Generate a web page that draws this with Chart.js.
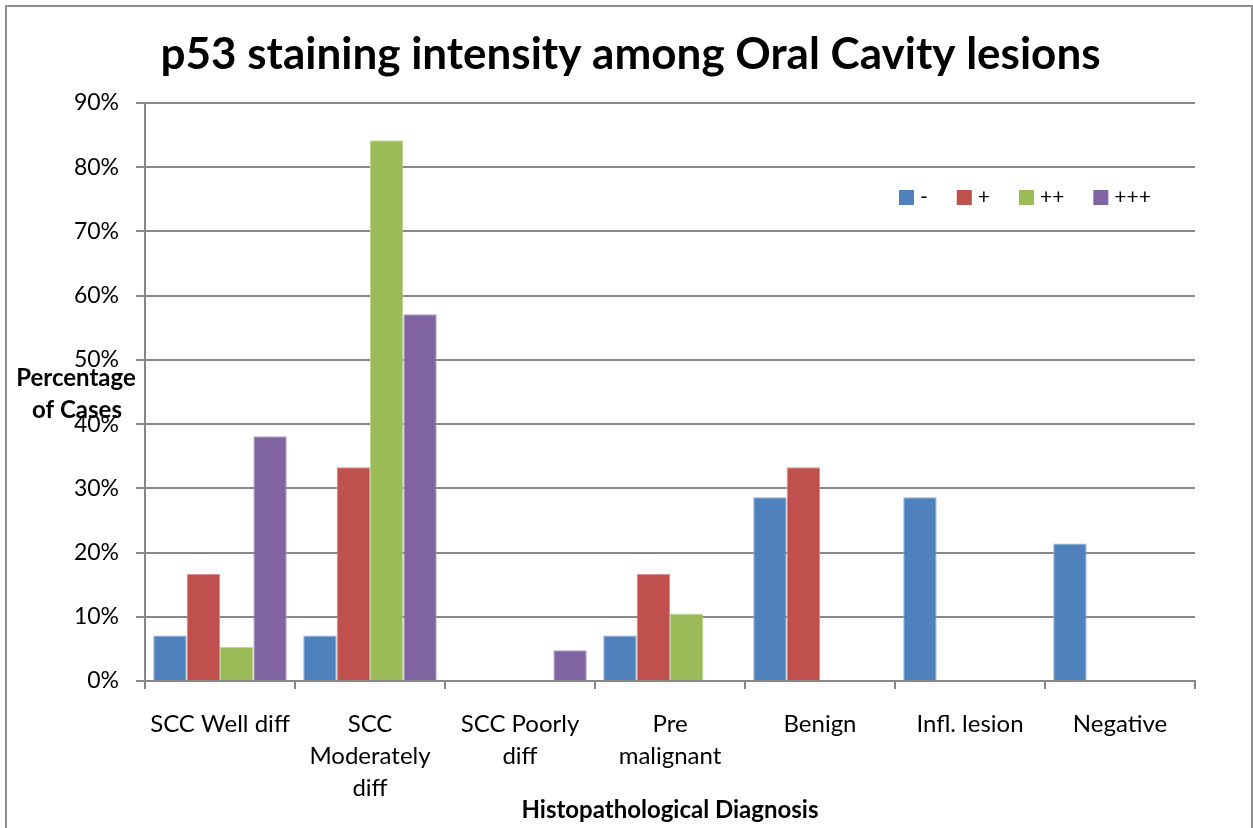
<!DOCTYPE html>
<html>
<head>
<meta charset="utf-8">
<title>p53 staining intensity</title>
<script src="https://cdn.jsdelivr.net/npm/chart.js@4.4.1/dist/chart.umd.min.js"></script>
<style>
    html, body { margin: 0; padding: 0; background: #fff; overflow: hidden; }
    #frame { position: absolute; left: 5px; top: 5px; width: 1244px; height: 840px; border: 2px solid #8e8e8e; }
    #wrap { position: absolute; left: 0; top: 0; width: 1253px; height: 828px; }
</style>
</head>
<body>
<div id="frame"></div>
<div id="wrap"><canvas id="myChart" width="1253" height="828"></canvas></div>
<script>
const categories = [
    'SCC Well diff',
    ['SCC', 'Moderately', 'diff'],
    ['SCC Poorly', 'diff'],
    ['Pre', 'malignant'],
    'Benign',
    'Infl. lesion',
    'Negative'
];
const seriesNames = ['-', '+', '++', '+++'];
const minus = [7.1, 7.1, 0, 7.1, 28.6, 28.6, 21.4];
const plus = [16.7, 33.3, 0, 16.7, 33.3, 0, 0];
const plusPlus = [5.3, 84.2, 0, 10.5, 0, 0, 0];
const plusPlusPlus = [38.1, 57.1, 4.8, 0, 0, 0, 0];
const yMax = 90;
const yStep = 10;

const chartTitle = 'p53 staining intensity among Oral Cavity lesions';
const fill = ['#4f81bd', '#c0504d', '#9bbb59', '#8064a2'];
const edge = ['#8eacd4', '#d88e8c', '#c1d69a', '#ae9cc6'];
const font = 'Lato, "Open Sans", sans-serif';
const gridGray = '#878787';

// title centred on the whole canvas, not on the plot
const pageTitle = {
    id: 'pageTitle',
    afterDraw(chart) {
        const ctx = chart.ctx;
        ctx.save();
        ctx.font = `bold 44px ${font}`;
        ctx.fillStyle = '#000';
        ctx.textAlign = 'center';
        ctx.textBaseline = 'alphabetic';
        ctx.fillText(chartTitle, chart.width / 2 + 4, 69);
        ctx.restore();
    }
};

// legend sits inside the plot, top right
const legendInPlot = {
    id: 'legendInPlot',
    afterDraw(chart) {
        const {ctx, chartArea} = chart;
        ctx.save();
        ctx.font = `21px ${font}`;
        ctx.textBaseline = 'middle';
        let x = chartArea.right - 296;
        const y = chartArea.top + 94;
        chart.data.datasets.forEach(ds => {
            ctx.fillStyle = ds.backgroundColor;
            ctx.fillRect(x, y - 7, 15, 15);
            ctx.fillStyle = '#000';
            ctx.fillText(ds.label, x + 21, y);
            x += 21 + ctx.measureText(ds.label).width + 29;
        });
        ctx.restore();
    }
};

// horizontal y axis title, written over the tick labels
const yTitle = {
    id: 'yTitle',
    afterDraw(chart) {
        const {ctx, chartArea} = chart;
        ctx.save();
        ctx.font = `bold 24px ${font}`;
        ctx.fillStyle = '#000';
        ctx.textAlign = 'center';
        ctx.textBaseline = 'middle';
        ctx.fillText('Percentage', chartArea.left - 69, chartArea.top + 275);
        ctx.fillText('of Cases', chartArea.left - 68, chartArea.top + 307);
        ctx.restore();
    }
};

const drawChart = function () {
    let ctx = document.getElementById('myChart').getContext('2d');
    const series = [minus, plus, plusPlus, plusPlusPlus];

    new Chart(ctx, {
        type: 'bar',
        data: {
            labels: categories,
            datasets: series.map((values, i) => ({
                label: seriesNames[i],
                data: values,
                backgroundColor: fill[i],
                borderColor: edge[i],
                borderWidth: 1,
                categoryPercentage: 0.89,
                barPercentage: 1.0
            }))
        },
        options: {
            responsive: false,
            animation: false,
            layout: { padding: { top: 103, right: 58, bottom: 0, left: 0 } },
            plugins: {
                legend: { display: false },
                tooltip: { enabled: false },
                title: { display: false }
            },
            scales: {
                x: {
                    afterFit: scale => { scale.height = 147; },
                    grid: {
                        offset: true,
                        drawOnChartArea: false,
                        drawTicks: true,
                        tickLength: 8,
                        color: gridGray,
                        lineWidth: 2
                    },
                    border: { color: gridGray, width: 2 },
                    ticks: {
                        color: '#000',
                        font: { family: font, size: 24, lineHeight: 32 / 24 },
                        padding: 19,
                        maxRotation: 0,
                        autoSkip: false
                    },
                    title: {
                        display: true,
                        text: 'Histopathological Diagnosis',
                        color: '#000',
                        font: { family: font, size: 24, weight: 'bold' },
                        padding: { top: 0, bottom: 3 }
                    }
                },
                y: {
                    afterFit: scale => { scale.width = 145; },
                    min: 0,
                    max: yMax,
                    ticks: {
                        stepSize: yStep,
                        color: '#000',
                        font: { family: font, size: 23 },
                        padding: 17,
                        callback: v => v + '%'
                    },
                    grid: {
                        color: gridGray,
                        lineWidth: 2,
                        tickLength: 9
                    },
                    border: { color: gridGray, width: 2 }
                }
            }
        },
        plugins: [pageTitle, legendInPlot, yTitle]
    });
};

document.addEventListener('DOMContentLoaded', drawChart);
</script>
</body>
</html>
